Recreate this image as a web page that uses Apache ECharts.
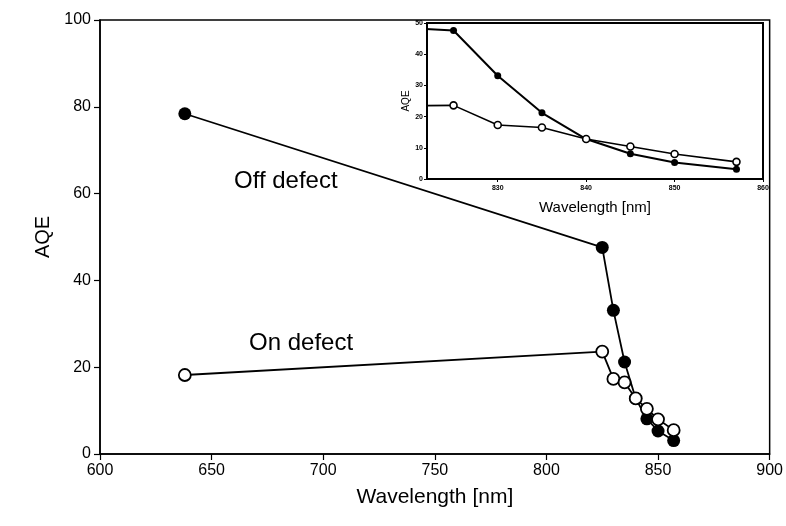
<!DOCTYPE html>
<html>
<head>
<meta charset="utf-8">
<script src="https://cdn.jsdelivr.net/npm/echarts@6/dist/echarts.min.js"></script>
<style>
  html, body { margin: 0; padding: 0; background: #fff; }
  #chart { width: 786px; height: 526px; }
</style>
</head>
<body>
<div id="chart"></div>
<script>
// Wavelength of each measurement (nm)
const wavelength = [638, 825, 830, 835, 840, 845, 850, 857];
// AQE measured away from the defect (filled markers)
const offDefect = [78.4, 47.6, 33.1, 21.2, 12.8, 8.1, 5.3, 3.1];
// AQE measured on the defect (open markers)
const onDefect = [18.2, 23.6, 17.3, 16.5, 12.8, 10.4, 8.0, 5.5];

// Tick values
const mainXTicks = [600, 650, 700, 750, 800, 850, 900];
const mainYTicks = [0, 20, 40, 60, 80, 100];
const insetXTicks = [830, 840, 850, 860];
const insetYTicks = [0, 10, 20, 30, 40, 50];

const pairs = (ys) => wavelength.map((w, i) => [w, ys[i]]);

const FONT = 'Liberation Sans, Arial, sans-serif';
const BLACK = '#000';

const chart = echarts.init(document.getElementById('chart'), null, { renderer: 'canvas' });

function lineSeries(name, ys, axisIndex, filled, size, width) {
  return {
    name: name,
    type: 'line',
    xAxisIndex: axisIndex,
    yAxisIndex: axisIndex,
    data: pairs(ys),
    clip: true,
    symbol: 'circle',
    symbolSize: size,
    showAllSymbol: true,
    lineStyle: { color: BLACK, width: width },
    itemStyle: {
      color: filled ? BLACK : '#fff',
      borderColor: BLACK,
      borderWidth: filled ? 0 : width
    },
    emphasis: { disabled: true },
    animation: false,
    z: filled ? 3 : 4
  };
}

const option = {
  backgroundColor: '#fff',
  animation: false,
  textStyle: { fontFamily: FONT, color: BLACK },
  grid: [
    { left: 100, right: 15, top: 20, bottom: 72, show: true, borderColor: BLACK, borderWidth: 1.5, backgroundColor: 'transparent' },
    { left: 427, right: 23, top: 23, bottom: 347, show: true, borderColor: BLACK, borderWidth: 2, backgroundColor: '#fff', z: 5 }
  ],
  xAxis: [
    {
      gridIndex: 0, type: 'value', min: 600, max: 900, interval: 50,
      name: 'Wavelength [nm]', nameLocation: 'middle', nameGap: 33,
      nameTextStyle: { fontSize: 21, color: BLACK, fontFamily: FONT },
      axisLine: { lineStyle: { color: BLACK, width: 1.5 } },
      axisTick: { inside: false, length: 6, lineStyle: { color: BLACK, width: 1.2 } },
      axisLabel: { fontSize: 16, color: BLACK, margin: 9, fontFamily: FONT, customValues: mainXTicks },
      splitLine: { show: false }
    },
    {
      gridIndex: 1, type: 'value', min: 822, max: 860,
      name: 'Wavelength [nm]', nameLocation: 'middle', nameGap: 21,
      nameTextStyle: { fontSize: 15, color: BLACK, fontFamily: FONT },
      axisLine: { lineStyle: { color: BLACK, width: 1.5 } },
      axisTick: { inside: false, length: 3, customValues: insetXTicks, lineStyle: { color: BLACK } },
      axisLabel: { fontSize: 7, fontWeight: 'bold', color: BLACK, margin: 6, fontFamily: FONT, customValues: insetXTicks },
      splitLine: { show: false }, z: 6
    }
  ],
  yAxis: [
    {
      gridIndex: 0, type: 'value', min: 0, max: 100, interval: 20,
      name: 'AQE', nameLocation: 'middle', nameGap: 47, nameRotate: 90,
      nameTextStyle: { fontSize: 20, color: BLACK, fontFamily: FONT },
      axisLine: { lineStyle: { color: BLACK, width: 1.5 } },
      axisTick: { inside: false, length: 6, lineStyle: { color: BLACK, width: 1.2 } },
      axisLabel: { fontSize: 16, color: BLACK, margin: 9, fontFamily: FONT, customValues: mainYTicks },
      splitLine: { show: false }
    },
    {
      gridIndex: 1, type: 'value', min: 0, max: 50, interval: 10,
      name: 'AQE', nameLocation: 'middle', nameGap: 16, nameRotate: 90,
      nameTextStyle: { fontSize: 10, color: BLACK, fontFamily: FONT },
      axisLine: { lineStyle: { color: BLACK, width: 1.5 } },
      axisTick: { inside: false, length: 3, lineStyle: { color: BLACK } },
      axisLabel: { fontSize: 7, fontWeight: 'bold', color: BLACK, margin: 4, fontFamily: FONT, customValues: insetYTicks },
      splitLine: { show: false }, z: 6
    }
  ],
  series: [
    lineSeries('Off defect', offDefect, 0, true, 13, 1.8),
    lineSeries('On defect', onDefect, 0, false, 12, 1.8),
    Object.assign(lineSeries('Off defect (inset)', offDefect, 1, true, 7, 2), { z: 7 }),
    Object.assign(lineSeries('On defect (inset)', onDefect, 1, false, 7, 1.6), { z: 8 })
  ],
  graphic: [
    { type: 'text', left: 234, top: 169, style: { text: 'Off defect', font: '24px ' + FONT, fill: BLACK } },
    { type: 'text', left: 249, top: 331, style: { text: 'On defect', font: '24px ' + FONT, fill: BLACK } }
  ]
};

chart.setOption(option);
</script>
</body>
</html>
